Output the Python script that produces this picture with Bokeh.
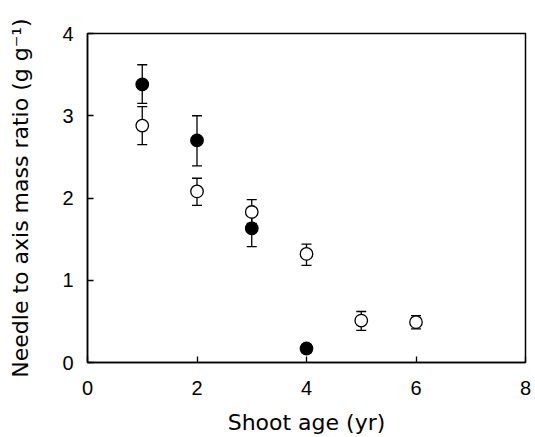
from bokeh.plotting import figure
from bokeh.models import ColumnDataSource, Whisker, TeeHead, FixedTicker, Range1d
from bokeh.embed import file_html
from bokeh.resources import INLINE

# Data
age_filled = [1, 2, 3, 4]
ratio_filled = [3.38, 2.70, 1.63, 0.17]
upper_filled = [3.62, 3.00, 1.84, 0.22]
lower_filled = [3.15, 2.39, 1.41, 0.12]

age_open = [1, 2, 3, 4, 5, 6]
ratio_open = [2.88, 2.08, 1.83, 1.32, 0.51, 0.49]
upper_open = [3.11, 2.24, 1.98, 1.44, 0.62, 0.57]
lower_open = [2.65, 1.91, 1.69, 1.18, 0.39, 0.41]

x_ticks = [0, 2, 4, 6, 8]
y_ticks = [0, 1, 2, 3, 4]

src_f = ColumnDataSource(dict(x=age_filled, y=ratio_filled, up=upper_filled, lo=lower_filled))
src_o = ColumnDataSource(dict(x=age_open, y=ratio_open, up=upper_open, lo=lower_open))

p = figure(width=535, height=437, output_backend="svg", toolbar_location=None,
           x_range=Range1d(0, 8), y_range=Range1d(0, 4),
           min_border_left=87, min_border_right=10, min_border_top=33, min_border_bottom=74)

p.xgrid.visible = False
p.ygrid.visible = False
p.outline_line_color = "black"
p.outline_line_width = 1.5
p.background_fill_color = "white"
p.border_fill_color = "white"

for src in (src_o, src_f):
    w = Whisker(source=src, base="x", upper="up", lower="lo", line_color="black", line_width=1.3,
                upper_head=TeeHead(size=10, line_color="black", line_width=1.3),
                lower_head=TeeHead(size=10, line_color="black", line_width=1.3))
    p.add_layout(w)

p.scatter("x", "y", source=src_o, size=12.5, fill_color="white", line_color="black", line_width=1.3)
p.scatter("x", "y", source=src_f, size=12.5, fill_color="black", line_color="black", line_width=1.3)

for ax in (p.xaxis[0], p.yaxis[0]):
    ax.axis_line_color = "black"
    ax.axis_line_width = 1.5
    ax.major_tick_in = 6
    ax.major_tick_out = 0
    ax.minor_tick_line_color = None
    ax.major_tick_line_width = 1.3
    ax.major_label_text_font = "Liberation Sans"
    ax.major_label_text_font_size = "20px"
    ax.major_label_text_color = "black"
    ax.axis_label_text_font = "DejaVu Sans"
    ax.axis_label_text_font_size = "22px"
    ax.axis_label_text_font_style = "normal"
    ax.axis_label_text_color = "black"

p.xaxis.ticker = FixedTicker(ticks=x_ticks)
p.yaxis.ticker = FixedTicker(ticks=y_ticks)
p.xaxis.axis_label = "Shoot age (yr)"
p.yaxis.axis_label = "Needle to axis mass ratio (g g\u207b\u00b9)"
p.xaxis.major_label_standoff = 18
p.yaxis.major_label_standoff = 14
p.xaxis.axis_label_standoff = 12
p.yaxis.axis_label_standoff = 26

open("out.html", "w").write(file_html(p, INLINE))
